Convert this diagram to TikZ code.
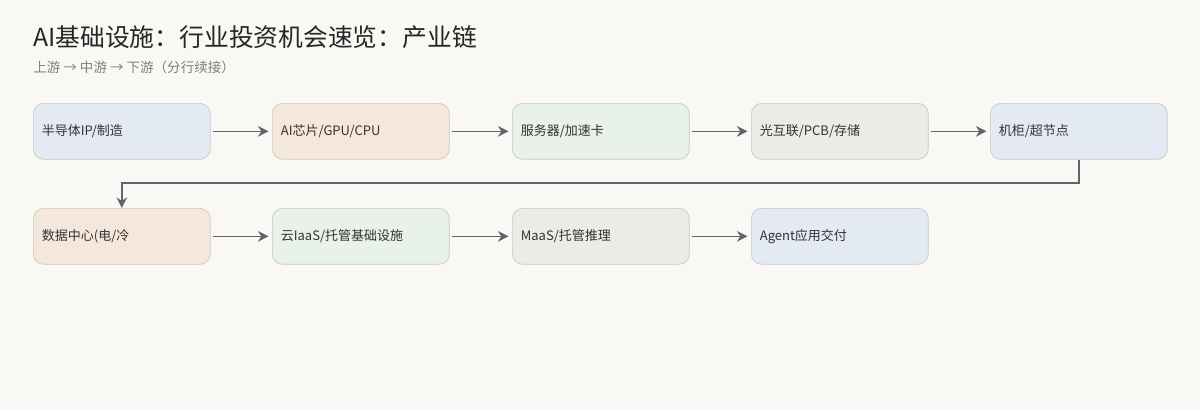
\documentclass[tikz,border=0pt]{standalone}
\usepackage{fontspec}
\setmainfont{Noto Sans CJK SC}
\usetikzlibrary{arrows.meta}
\definecolor{chainbg}{HTML}{FAF8F4}
\definecolor{chainblue}{HTML}{E3EAF4}
\definecolor{chainorange}{HTML}{F6E7DC}
\definecolor{chaingreen}{HTML}{E8F1EA}
\definecolor{chaingray}{HTML}{ECEBE7}
\definecolor{chainline}{HTML}{C9C9C5}
\definecolor{chainarrow}{HTML}{60636A}
\definecolor{chaintext}{HTML}{333333}
\tikzset{
  stage/.style={draw=chainline, rounded corners=6pt, minimum width=3.54cm,
    minimum height=1.12cm, text width=3.2cm, align=left, anchor=north west,
    font=\fontsize{7.4}{9}\selectfont, text=chaintext, inner sep=0pt},
  flow/.style={draw=chainarrow, line width=0.9pt, -{Stealth[length=6pt,width=6pt]}}
}
\begin{document}
\begin{tikzpicture}[x=0.02cm,y=-0.02cm]
\useasboundingbox[fill=chainbg] (0,0) rectangle (1200,410);
% Title
\node[anchor=west, inner sep=0pt, font=\fontsize{14.1}{16}\selectfont, text=black!85] (title) at (33,37) {AI基础设施：行业投资机会速览：产业链};
\node[anchor=west, inner sep=0pt, font=\fontsize{7.7}{9}\selectfont, text=black!50] (sub) at (33,67) {上游 → 中游 → 下游（分行续接）};
% Row 1
\node[stage, fill=chainblue] (s1) at (33,103) {半导体IP/制造};
\node[stage, fill=chainorange] (s2) at (272,103) {AI芯片/GPU/CPU};
\node[stage, fill=chaingreen] (s3) at (512,103) {服务器/加速卡};
\node[stage, fill=chaingray] (s4) at (751,103) {光互联/PCB/存储};
\node[stage, fill=chainblue] (s5) at (990,103) {机柜/超节点};
% Row 2
\node[stage, fill=chainorange] (s6) at (33,208) {数据中心(电/冷};
\node[stage, fill=chaingreen] (s7) at (272,208) {云IaaS/托管基础设施};
\node[stage, fill=chaingray] (s8) at (512,208) {MaaS/托管推理};
\node[stage, fill=chainblue] (s9) at (751,208) {Agent应用交付};
% Connectors
\foreach \a/\b in {s1/s2,s2/s3,s3/s4,s4/s5,s6/s7,s7/s8,s8/s9}
  \draw[flow] (\a.east) ++(2,0) -- ([xshift=-2]\b.west);
\coordinate (turn) at (0,183);
\draw[flow] (s5.south) -- (s5.south |- turn) -| (s6.north);
\end{tikzpicture}
\end{document}
